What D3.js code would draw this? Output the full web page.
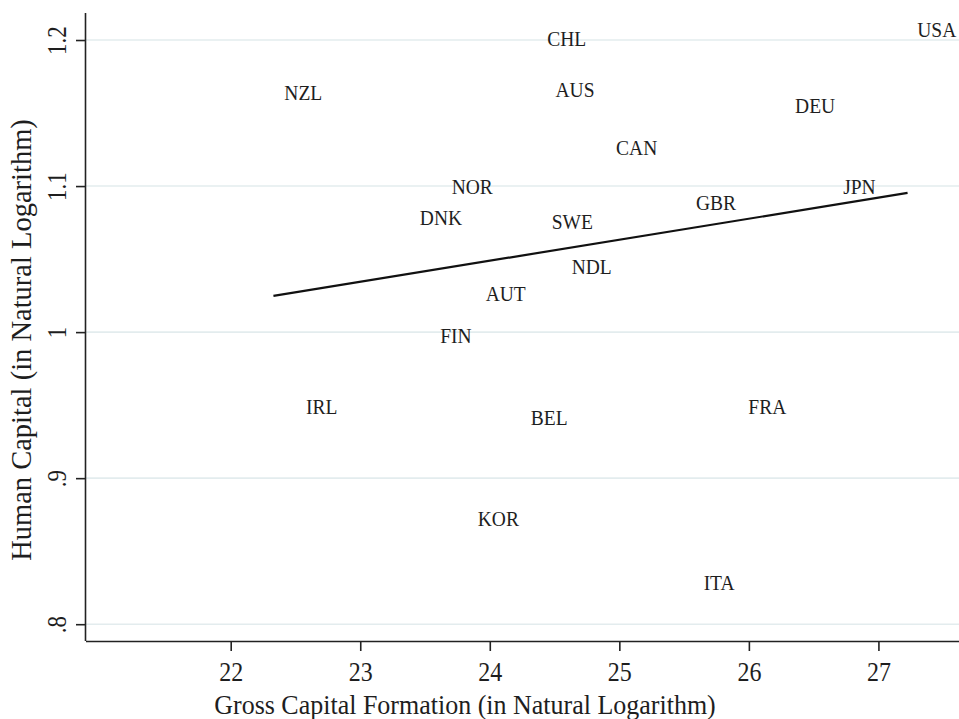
<!DOCTYPE html>
<html>
<head>
<meta charset="utf-8">
<script src="https://cdn.jsdelivr.net/npm/d3@7"></script>
<style>
  html, body { margin: 0; padding: 0; background: #fff; }
  svg { display: block; }
  text { font-family: "Liberation Serif", "Times New Roman", serif; fill: #1e1e1e; }
</style>
</head>
<body>
<svg id="chart" width="959" height="719"></svg>
<script>
// Data
const countries = ["CHL","USA","NZL","AUS","DEU","CAN","NOR","JPN","DNK","GBR","SWE","NDL","AUT","FIN","IRL","BEL","FRA","KOR","ITA"];
const gcf = [24.594,27.450,22.560,24.658,26.511,25.134,23.865,26.853,23.623,25.746,24.637,24.787,24.123,23.739,22.702,24.459,26.142,24.066,25.770];
const humanCapital = [1.2005,1.2068,1.1635,1.1658,1.1548,1.1259,1.0996,1.0992,1.0779,1.0882,1.0752,1.0448,1.0258,0.9973,0.9490,0.9414,0.9490,0.8721,0.8285];
const fitX = [22.33, 27.225];
const fitY = [1.0248, 1.0953];
const xTicks = [22, 23, 24, 25, 26, 27];
const yTicks = [0.8, 0.9, 1.0, 1.1, 1.2];
const yTickLabels = [".8", ".9", "1", "1.1", "1.2"];
const xTitle = "Gross Capital Formation (in Natural Logarithm)";
const yTitle = "Human Capital (in Natural Logarithm)";

const serif = "'Liberation Serif', 'Times New Roman', serif";
const svg = d3.select("#chart");
const mLeft = 86, mRight = 959, mTop = 13, mBottom = 641;

const x = d3.scaleLinear().domain([20.883, 27.622]).range([mLeft, mRight]);
const y = d3.scaleLinear().domain([0.7885, 1.2185]).range([mBottom, mTop]);

// gridlines
svg.append("g").selectAll("line").data(yTicks).join("line")
  .attr("x1", mLeft).attr("x2", mRight)
  .attr("y1", d => y(d)).attr("y2", d => y(d))
  .attr("stroke", "#e3ecee").attr("stroke-width", 1.6);

// x axis
const xAxis = svg.append("g").attr("transform", `translate(0,${mBottom})`)
  .call(d3.axisBottom(x).tickValues(xTicks).tickSize(10).tickFormat(d3.format("d")));
xAxis.attr("font-family", serif).attr("font-size", null);
xAxis.select(".domain").attr("stroke", "#222").attr("stroke-width", 1.6).attr("d", `M${mLeft},0.5H${mRight}`);
xAxis.selectAll(".tick line").attr("stroke", "#222").attr("stroke-width", 1.6);
xAxis.selectAll(".tick text")
  .style("font-family", serif)
  .attr("font-size", 24).attr("fill", "#1e1e1e")
  .attr("y", null).attr("dy", null)
  .attr("transform", "translate(0,40) scale(1,1.1)");

// y axis
const yAxis = svg.append("g").attr("transform", `translate(${mLeft},0)`)
  .call(d3.axisLeft(y).tickValues(yTicks).tickSize(10).tickFormat((d, i) => yTickLabels[i]));
yAxis.attr("font-family", serif).attr("font-size", null);
yAxis.select(".domain").attr("stroke", "#222").attr("stroke-width", 1.6).attr("d", `M-0.5,${mTop}V${mBottom}`);
yAxis.selectAll(".tick line").attr("stroke", "#222").attr("stroke-width", 1.6);
yAxis.selectAll(".tick text")
  .style("font-family", serif)
  .attr("font-size", 23).attr("fill", "#1e1e1e")
  .attr("x", null).attr("dy", null)
  .attr("text-anchor", "middle")
  .attr("transform", "translate(-20,0) rotate(-90) scale(1,1.15)");

// fit line
svg.append("path")
  .datum(fitX.map((v, i) => [v, fitY[i]]))
  .attr("d", d3.line().x(d => x(d[0])).y(d => y(d[1])))
  .attr("stroke", "#111").attr("stroke-width", 2.2).attr("fill", "none");

// country labels
svg.append("g").selectAll("text").data(countries).join("text")
  .attr("transform", (d, i) => `translate(${x(gcf[i])},${y(humanCapital[i])}) scale(1,1.06)`)
  .attr("dy", "0.34em")
  .attr("text-anchor", "middle")
  .attr("font-size", 19.5)
  .text(d => d);

// axis titles
svg.append("text")
  .attr("transform", "translate(465,714) scale(1,1.05)")
  .attr("text-anchor", "middle").attr("font-size", 26)
  .text(xTitle);

svg.append("text")
  .attr("transform", "translate(31,340) rotate(-90)")
  .attr("text-anchor", "middle").attr("font-size", 28.5)
  .text(yTitle);
</script>
</body>
</html>
